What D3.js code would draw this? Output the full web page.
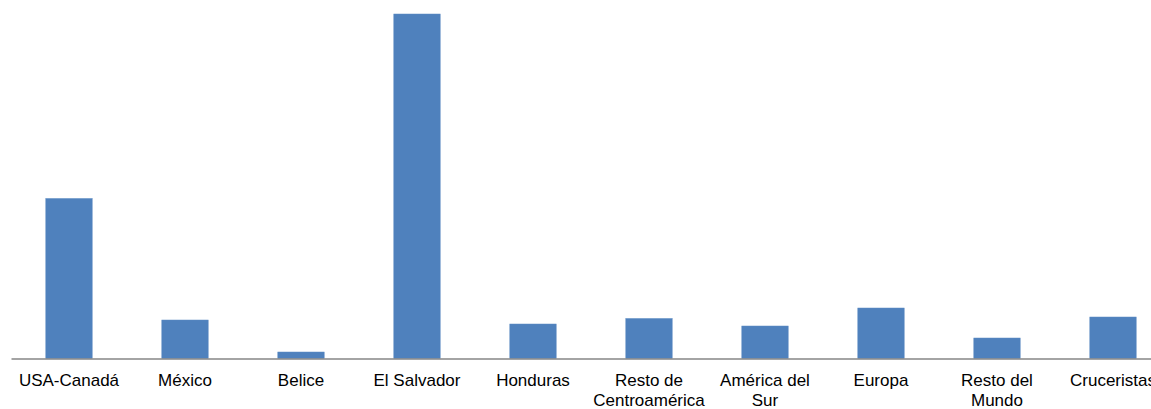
<!DOCTYPE html>
<html><head><meta charset="utf-8">
<script src="https://cdn.jsdelivr.net/npm/d3@7"></script>
<style>html,body{margin:0;padding:0;background:#fff;overflow:hidden}</style>
</head><body>
<svg id="c" width="1151" height="409"></svg>
<script>
const categories = ["USA-Canadá","México","Belice","El Salvador","Honduras","Resto de\nCentroamérica","América del\nSur","Europa","Resto del\nMundo","Cruceristas"];
const values = [320, 77, 13, 689, 69, 80, 65, 101, 41, 83];

const svg = d3.select("#c");
const x = d3.scaleBand().domain(categories).range([11, 1171]).paddingInner(0.6).paddingOuter(0.3);
const y = d3.scaleLinear().domain([0, 689]).range([358.5, 14]);

svg.selectAll("rect.bar").data(values).enter().append("rect")
  .attr("class","bar")
  .attr("x",(d,i)=>x(categories[i]))
  .attr("width",x.bandwidth())
  .attr("y",d=>y(d))
  .attr("height",d=>y(0)-y(d))
  .attr("fill","#4F81BD")
  .attr("stroke","#5B8AC2").attr("stroke-width",0.5);

const axis = d3.axisBottom(x).tickSize(0).tickFormat("");
const ag = svg.append("g").attr("transform",`translate(0,${y(0)})`).call(axis);
ag.select(".domain").attr("stroke","#868686").attr("stroke-width",1.5);

const lbl = svg.append("g");
categories.forEach(c=>{
  const lines = c.split("\n");
  const t = lbl.append("text")
    .attr("x", x(c)+x.bandwidth()/2)
    .attr("y", 386)
    .attr("text-anchor","middle")
    .attr("font-family","'Liberation Sans', Arial, sans-serif")
    .attr("font-size","17px")
    .attr("fill","#000");
  lines.forEach((l,i)=>t.append("tspan").attr("x", x(c)+x.bandwidth()/2).attr("dy", i===0?0:20).text(l));
});
</script>
</body></html>
